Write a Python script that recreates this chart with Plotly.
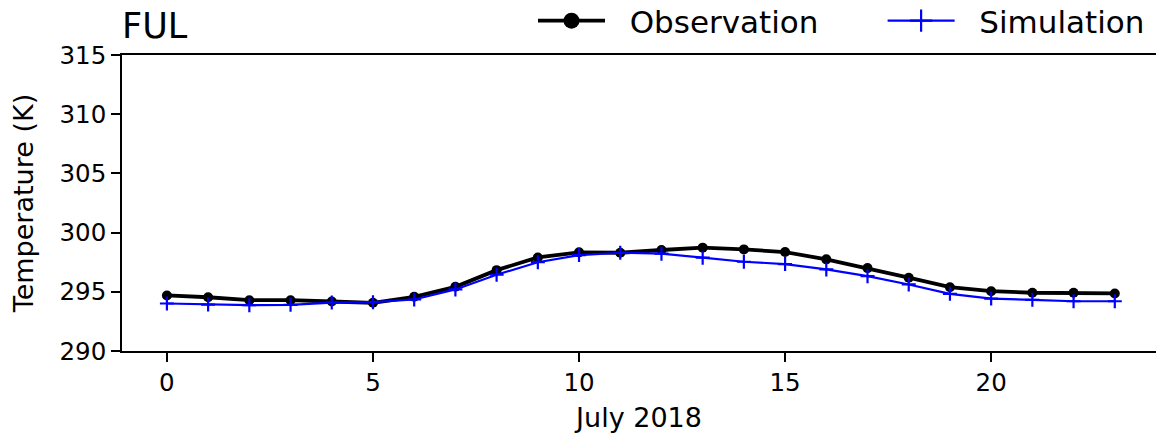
import plotly.graph_objects as go

# Hourly mean 2 m temperature at FUL, July 2018
hours = list(range(24))
observation = [294.69, 294.54, 294.29, 294.29, 294.18, 294.07, 294.58, 295.42,
               296.83, 297.90, 298.33, 298.30, 298.53, 298.73, 298.58, 298.36,
               297.74, 297.00, 296.19, 295.39, 295.05, 294.92, 294.92, 294.86]
simulation = [294.01, 293.92, 293.87, 293.90, 294.09, 294.12, 294.35, 295.20,
              296.44, 297.50, 298.10, 298.30, 298.22, 297.88, 297.54, 297.34,
              296.89, 296.32, 295.62, 294.83, 294.43, 294.32, 294.20, 294.20]
x_ticks = [0, 5, 10, 15, 20]
y_ticks = [290, 295, 300, 305, 310, 315]

FONT = "DejaVu Sans"
NBSP = "\u00a0"

obs_line = dict(color="black", width=3.8)
sim_line = dict(color="blue", width=2.2)

fig = go.Figure()
fig.add_trace(go.Scatter(
    x=hours, y=observation, name="Observation", mode="lines+markers",
    line=obs_line, marker=dict(symbol="circle", size=10, color="black"),
    legendgroup="obs", showlegend=False,
))
fig.add_trace(go.Scatter(
    x=hours, y=simulation, name="Simulation", mode="lines+markers",
    line=sim_line, marker=dict(symbol="cross-thin", size=10, line=dict(color="blue", width=2.2)),
    legendgroup="sim", showlegend=False,
))

# Legend entries with enlarged markers; non-breaking spaces pad the entry spacing
fig.add_trace(go.Scatter(
    x=[None], y=[None], name=NBSP * 2 + "Observation" + NBSP * 6, mode="lines+markers",
    line=obs_line, marker=dict(symbol="circle", size=16, color="black"),
    legendgroup="obs", showlegend=True,
))
fig.add_trace(go.Scatter(
    x=[None], y=[None], name=NBSP * 2 + "Simulation", mode="lines+markers",
    line=sim_line, marker=dict(symbol="cross-thin", size=16, line=dict(color="blue", width=2.2)),
    legendgroup="sim", showlegend=True,
))

axis_common = dict(
    showgrid=False, zeroline=False, showline=True, linecolor="black", linewidth=1.6,
    ticks="outside", ticklen=9, tickwidth=1.6, tickcolor="black",
    tickfont=dict(family=FONT, size=24.5, color="black"),
)

fig.update_layout(
    width=1156, height=436,
    margin=dict(l=122, r=0, t=55, b=85, autoexpand=False),
    paper_bgcolor="white", plot_bgcolor="white",
    font=dict(family=FONT, color="black"),
    title=dict(text="FUL", x=122 / 1156, xanchor="left", y=1 - 26 / 436, yanchor="middle",
               font=dict(family=FONT, size=35, color="black")),
    xaxis=dict(range=[-1.09, 24.0], tickvals=x_ticks, mirror=True,
               title=dict(text="July 2018", font=dict(family=FONT, size=27), standoff=12),
               **axis_common),
    yaxis=dict(range=[290, 315], tickvals=y_ticks, mirror=False,
               title=dict(text="Temperature (K)", font=dict(family=FONT, size=27), standoff=18),
               **axis_common),
    legend=dict(orientation="h", x=(533 - 122) / 1034, xanchor="left",
                y=1 + 61 / 296, yanchor="top",
                font=dict(family=FONT, size=31, color="black"), bgcolor="rgba(0,0,0,0)",
                itemwidth=67, tracegroupgap=0),
    showlegend=True,
)

fig.write_html("out.html")
